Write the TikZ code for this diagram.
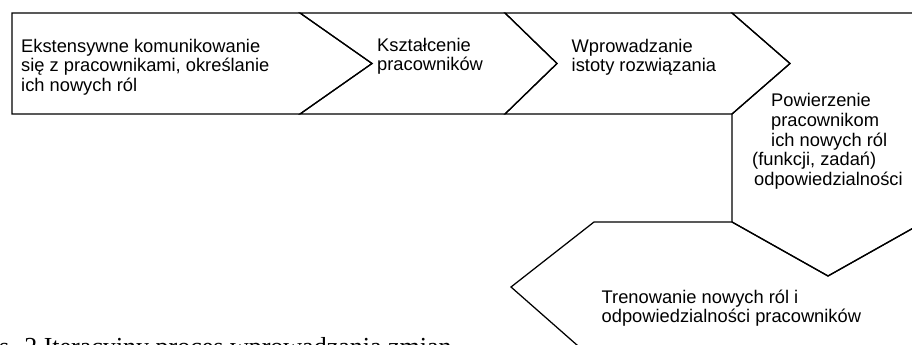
\documentclass[tikz,border=0pt]{standalone}
\usepackage{fontspec}
\setmainfont{Liberation Sans}
\newfontfamily\capfont{Liberation Serif}
\begin{document}
\begin{tikzpicture}[x=1pt,y=-1pt,
  shapeline/.style={draw=black, line width=1.25pt, line join=miter},
  lbl/.style={font=\fontsize{18.3}{19.7}\selectfont, inner sep=0pt, align=left, anchor=base west},
  caption/.style={font=\capfont\fontsize{26}{30}\selectfont, inner sep=0pt, anchor=base west}]
\useasboundingbox (0,0) rectangle (912,345);
\clip (0,0) rectangle (912,345);
% shape 1
\draw[shapeline] (12,13) -- (300,13) -- (372,63.5) -- (300,114) -- (12,114) -- cycle;
% shape 2
\draw[shapeline] (300,13) -- (505,13) -- (557,63.5) -- (505,114) -- (300,114) -- (372,63.5) -- cycle;
% shape 3
\draw[shapeline] (505,13) -- (732,13) -- (790,63.5) -- (732,114) -- (505,114) -- (557,63.5) -- cycle;
% shape 4
\draw[shapeline] (732,13) -- (930,13) -- (930,222) -- (924,222) -- (828,276) -- (732,222) -- (732,114) -- (790,63.5) -- cycle;
% shape 5
\draw[shapeline] (594,222) -- (732,222) -- (828,276) -- (924,222) -- (930,222) -- (930,360) -- (594,360) -- (511,287) -- cycle;
% texts (anchored at the baseline of the last line)
\node[lbl] (t1) at (21,91.4) {Ekstensywne komunikowanie\\się z pracownikami, określanie\\ich nowych ról};
\node[lbl] (t2) at (377,70.7) {Kształcenie\\pracowników};
\node[lbl] (t3) at (571.5,71.7) {Wprowadzanie\\istoty rozwiązania};
\node[lbl] (t4) at (752,185.5) {\hspace*{19pt}Powierzenie\\\hspace*{19pt}pracownikom\\\hspace*{19pt}ich nowych ról\\(funkcji, zadań)\\\hspace*{2pt}odpowiedzialności};
\node[lbl] (t5) at (601.5,322.7) {Trenowanie nowych ról i\\odpowiedzialności pracowników};
\node[caption] (cap) at (-30.5,355) {Rys. 2 Iteracyjny proces wprowadzania zmian};
\end{tikzpicture}
\end{document}
